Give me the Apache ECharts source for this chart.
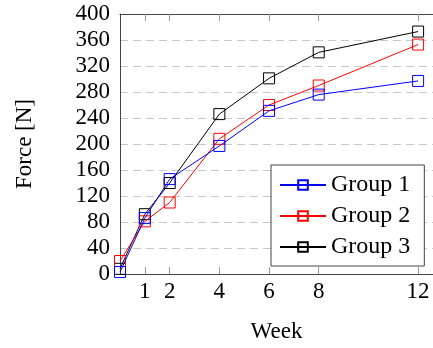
<!DOCTYPE html>
<html><head><meta charset="utf-8">
<script src="https://cdn.jsdelivr.net/npm/echarts@6/dist/echarts.min.js"></script>
<style>html,body{margin:0;padding:0;background:#fff}#c{width:433px;height:348px}</style>
</head><body><div id="c"></div>
<script>
const weeks = [0, 1, 2, 4, 6, 8, 12];
const tickWeeks = [1, 2, 4, 6, 8, 12];
const group1 = [3, 86, 146, 197, 251, 276, 297];
const group2 = [20, 81, 110, 208, 260, 290, 353];
const group3 = [8, 92, 140, 246, 301, 341, 373];
const seriesNames = ['Group 1', 'Group 2', 'Group 3'];
const colors = ['#0000ff', '#ff0000', '#000000'];

const font = 'Liberation Serif';
const fs = 23;
const datas = [group1, group2, group3];
const chart = echarts.init(document.getElementById('c'), null, {renderer: 'canvas'});
chart.setOption({
  animation: false,
  grid: {left: 120, top: 14, right: 0, bottom: 71},
  xAxis: [{
    type: 'value', min: 0, max: 12.6, position: 'bottom',
    name: 'Week', nameLocation: 'middle', nameGap: 46,
    nameTextStyle: {fontFamily: font, fontSize: fs, color: '#000'},
    axisLine: {show: true, lineStyle: {color: '#444', width: 1}},
    axisTick: {show: true, inside: true, length: 7, customValues: tickWeeks, lineStyle: {color: '#999'}},
    axisLabel: {show: true, customValues: tickWeeks, margin: 6, fontFamily: font, fontSize: fs, color: '#000'},
    splitLine: {show: false}
  }, {
    type: 'value', min: 0, max: 12.6, position: 'top',
    axisLine: {show: true, lineStyle: {color: '#444', width: 1}},
    axisTick: {show: true, inside: true, length: 7, customValues: tickWeeks, lineStyle: {color: '#999'}},
    axisLabel: {show: false},
    splitLine: {show: false}
  }],
  yAxis: {
    type: 'value', min: 0, max: 400, interval: 40,
    name: 'Force [N]', nameLocation: 'middle', nameGap: 84, nameRotate: 90,
    nameTextStyle: {fontFamily: font, fontSize: fs, color: '#000'},
    axisLine: {show: true, lineStyle: {color: '#444', width: 1}},
    axisTick: {show: false},
    axisLabel: {margin: 10, fontFamily: font, fontSize: fs, color: '#000'},
    splitLine: {show: true, lineStyle: {color: '#c8c8c8', type: [8, 5], width: 1}}
  },
  legend: {
    left: 271, top: 165, orient: 'vertical', align: 'left',
    backgroundColor: '#fff', borderColor: '#444', borderWidth: 1,
    padding: [8, 14, 7, 8], itemGap: 7, itemWidth: 46, itemHeight: 12,
    textStyle: {fontFamily: font, fontSize: 24, color: '#000'},
    data: seriesNames
  },
  series: seriesNames.map((n, i) => ({
    name: n, type: 'line',
    data: weeks.map((w, j) => [w, datas[i][j]]),
    symbol: 'rect', symbolSize: 11,
    lineStyle: {color: colors[i], width: 1},
    itemStyle: {color: 'rgba(0,0,0,0)', borderColor: colors[i], borderWidth: 1},
    z: 3 - i
  }))
});
</script></body></html>
